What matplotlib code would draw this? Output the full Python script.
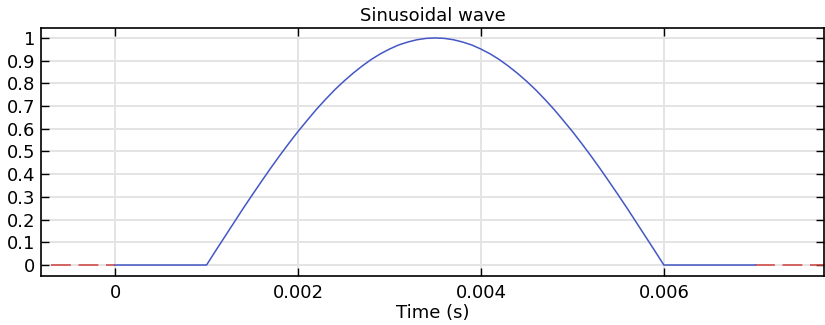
import matplotlib
matplotlib.use("Agg")
import matplotlib.pyplot as plt

# Values (flat zero, half sine from 1 ms to 6 ms, flat zero)
t_main = [0.0, 0.0010, 0.0011, 0.0012, 0.0013, 0.0014, 0.0015, 0.0016, 0.0017, 0.0018,
          0.0019, 0.0020, 0.0021, 0.0022, 0.0023, 0.0024, 0.0025, 0.0026, 0.0027,
          0.0028, 0.0029, 0.0030, 0.0031, 0.0032, 0.0033, 0.0034, 0.0035, 0.0036,
          0.0037, 0.0038, 0.0039, 0.0040, 0.0041, 0.0042, 0.0043, 0.0044, 0.0045,
          0.0046, 0.0047, 0.0048, 0.0049, 0.0050, 0.0051, 0.0052, 0.0053, 0.0054,
          0.0055, 0.0056, 0.0057, 0.0058, 0.0059, 0.0060, 0.0070]
y_main = [0.0, 0.0, 0.063, 0.125, 0.187, 0.249, 0.309, 0.368, 0.426, 0.482,
          0.536, 0.588, 0.637, 0.685, 0.729, 0.771, 0.809, 0.844, 0.876,
          0.905, 0.930, 0.951, 0.969, 0.982, 0.992, 0.998, 1.0, 0.998,
          0.992, 0.982, 0.969, 0.951, 0.930, 0.905, 0.876, 0.844, 0.809,
          0.771, 0.729, 0.685, 0.637, 0.588, 0.536, 0.482, 0.426, 0.368,
          0.309, 0.249, 0.187, 0.125, 0.063, 0.0, 0.0]
t_left = [-0.0007, 0.0]
y_left = [0.0, 0.0]
t_right = [0.007, 0.0078]
y_right = [0.0, 0.0]

xticks = [0, 0.002, 0.004, 0.006]
xticklabels = ["0", "0.002", "0.004", "0.006"]
yticks = [0, 0.1, 0.2, 0.3, 0.4, 0.5, 0.6, 0.7, 0.8, 0.9, 1]
yticklabels = ["0", "0.1", "0.2", "0.3", "0.4", "0.5", "0.6", "0.7", "0.8", "0.9", "1"]

plt.rcParams['font.family'] = 'DejaVu Sans'
fig = plt.figure(figsize=(8.25, 3.25), dpi=100)
ax = fig.add_axes([0.0497, 0.151, 0.949, 0.763])

ax.plot(t_left, y_left, color='#d04040', lw=1.1, dashes=(13, 5))
ax.plot(t_right, y_right, color='#d04040', lw=1.1, dashes=(13, 5))
ax.plot(t_main, y_main, color='#4457c4', lw=1.1)

ax.set_xlim(-0.00081, 0.00775)
ax.set_ylim(-0.048, 1.044)
ax.set_xticks(xticks)
ax.set_xticklabels(xticklabels)
ax.set_yticks(yticks)
ax.set_yticklabels(yticklabels)
ax.grid(True, color='#e4e4e4', lw=1.4)
ax.set_axisbelow(True)
ax.tick_params(direction='in', length=6, width=1, labelsize=13,
               top=True, right=True)
ax.tick_params(axis='x', pad=6)
ax.tick_params(axis='y', pad=4)
for s in ax.spines.values():
    s.set_linewidth(1.2)

ax.set_title('Sinusoidal wave', fontsize=13, pad=5)
ax.set_xlabel('Time (s)', fontsize=13, labelpad=1)

fig.savefig('out.png', dpi=100)
